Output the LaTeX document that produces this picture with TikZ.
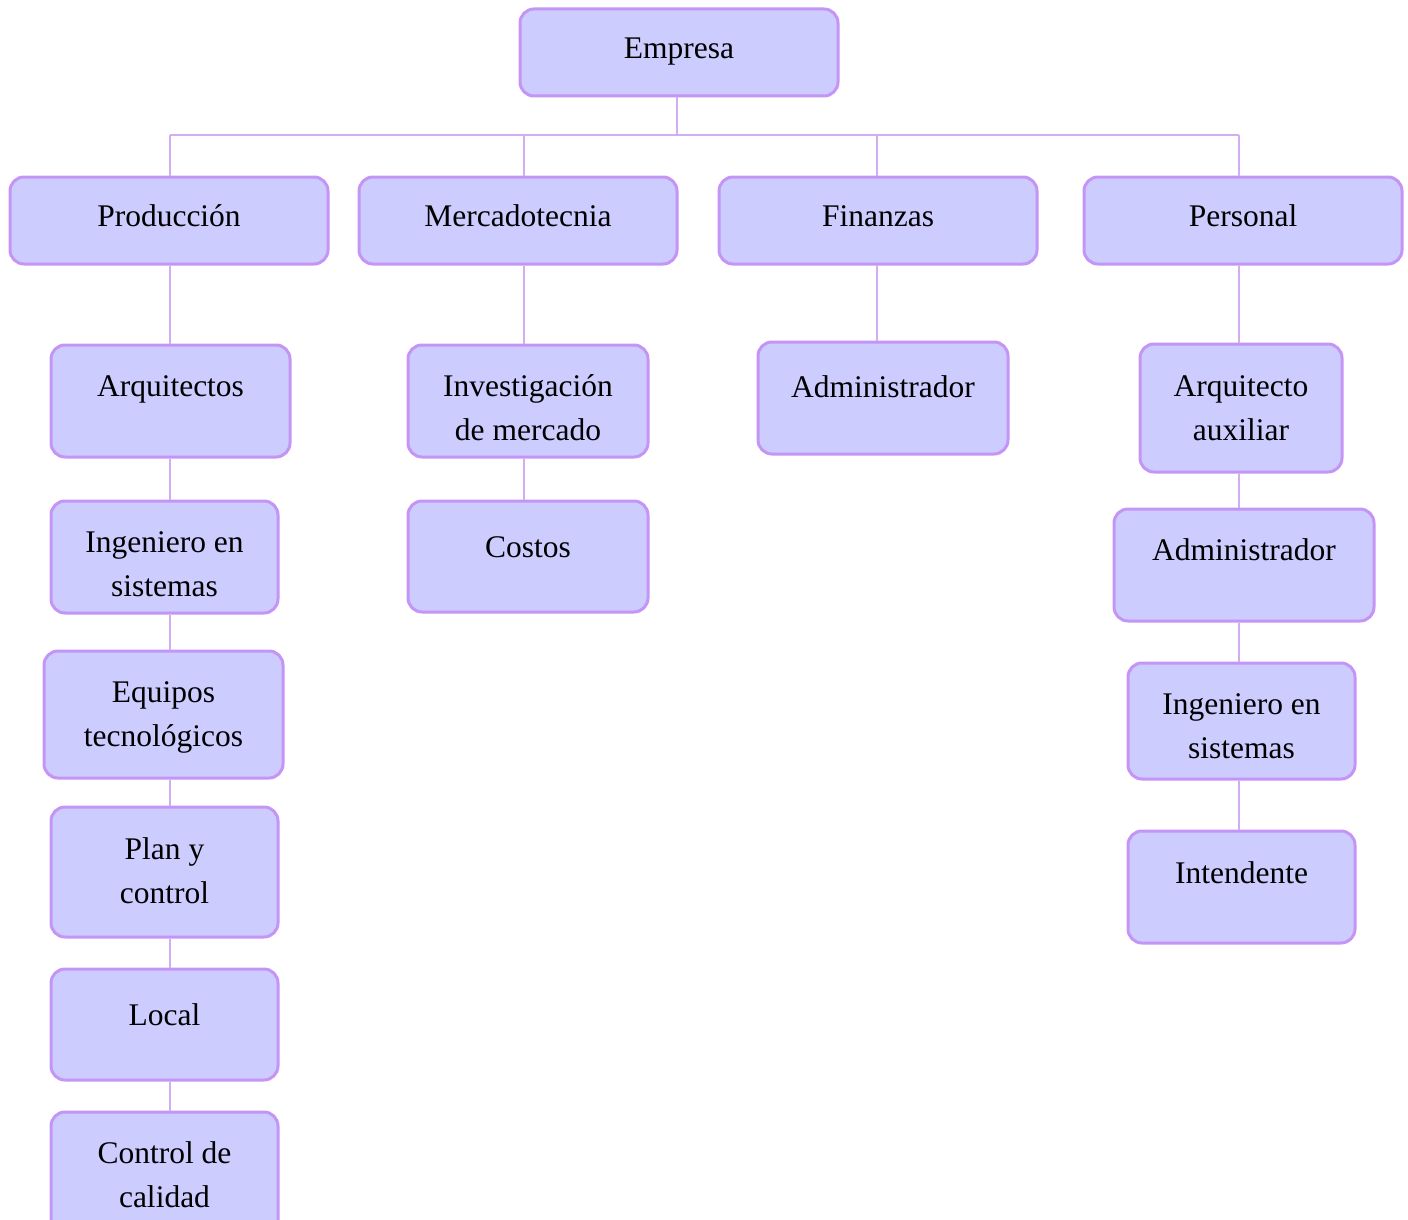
\documentclass[tikz,border=0pt]{standalone}
\usepackage{fontspec}
\setmainfont{Liberation Serif}
\definecolor{boxfill}{HTML}{CCCCFF}
\definecolor{boxline}{HTML}{C495F5}
\definecolor{linkline}{HTML}{D1AEF2}
\tikzset{
  box/.style={draw=boxline, fill=boxfill, line width=1.5pt, rounded corners=7pt,
    inner sep=0pt, align=center, font=\fontsize{15.75}{22}\selectfont},
  one/.style={text height=11pt, text depth=#1},
  two/.style={text height=40pt, text depth=#1},
  head/.style={box, minimum width=159pt, minimum height=43.5pt, one=5.1pt},
  link/.style={draw=linkline, line width=0.8pt}
}
\begin{document}
\begin{tikzpicture}[x=0.5pt,y=-0.5pt]

    \useasboundingbox (0,0) rectangle (1408,1220);
    \clip (0,0) rectangle (1408,1220);

    % first two rows
    \node[head] (emp) at (679,52.5) {Empresa};
    \node[head] (prod) at (169,220.5) {Producción};
    \node[head] (merc) at (518,220.5) {Mercadotecnia};
    \node[head] (fin) at (878,220.5) {Finanzas};
    \node[head] (pers) at (1243,220.5) {Personal};

    % Producción
    \node[box, minimum width=119.5pt, minimum height=56pt, one=15.6pt] (arq) at (170.5,401) {Arquitectos};
    \node[box, minimum width=113.5pt, minimum height=56pt, two=0.6pt] (ingP) at (164.5,557) {Ingeniero en\\sistemas};
    \node[box, minimum width=119.5pt, minimum height=63.5pt, two=8.1pt] (equ) at (163.5,714.5) {Equipos\\tecnológicos};
    \node[box, minimum width=113.5pt, minimum height=65pt, two=8.6pt] (plan) at (164.5,872) {Plan y\\control};
    \node[box, minimum width=113.5pt, minimum height=55.5pt, one=10.1pt] (loc) at (164.5,1024.5) {Local};
    \node[box, minimum width=113.5pt, minimum height=65pt, two=9.6pt] (cal) at (164.5,1177) {Control de\\calidad};

    % Mercadotecnia
    \node[box, minimum width=120pt, minimum height=56pt, two=0.6pt] (inv) at (528,401) {Investigación\\de mercado};
    \node[box, minimum width=120pt, minimum height=55.5pt, one=10.1pt] (cos) at (528,556.5) {Costos};

    % Finanzas
    \node[box, minimum width=125pt, minimum height=56pt, one=11.6pt] (admF) at (883,398) {Administrador};

    % Personal
    \node[box, minimum width=101pt, minimum height=64pt, two=7.6pt] (arqA) at (1241,408) {Arquitecto\\auxiliar};
    \node[box, minimum width=130pt, minimum height=56pt, one=15.6pt] (admP) at (1244,565) {Administrador};
    \node[box, minimum width=113.5pt, minimum height=58pt, two=2.6pt] (ingR) at (1241.5,721) {Ingeniero en\\sistemas};
    \node[box, minimum width=113.5pt, minimum height=56pt, one=14.6pt] (intd) at (1241.5,887) {Intendente};

    \coordinate (bus) at (677,135);
    \coordinate (cP) at (170,135);
    \coordinate (cM) at (524,135);
    \coordinate (cF) at (877,135);
    \coordinate (cR) at (1239,135);

    \draw[link] (emp.south -| bus) -- (bus);
    \draw[link] (cP) -- (cR);
    \draw[link] (cP) -- (prod.north -| cP);
    \draw[link] (cM) -- (merc.north -| cM);
    \draw[link] (cF) -- (fin.north -| cF);
    \draw[link] (cR) -- (pers.north -| cR);

    \foreach \a/\b in {prod/arq, arq/ingP, ingP/equ, equ/plan, plan/loc, loc/cal}
      \draw[link] (\a.south -| cP) -- (\b.north -| cP);
    \foreach \a/\b in {merc/inv, inv/cos}
      \draw[link] (\a.south -| cM) -- (\b.north -| cM);
    \draw[link] (fin.south -| cF) -- (admF.north -| cF);
    \foreach \a/\b in {pers/arqA, arqA/admP, admP/ingR, ingR/intd}
      \draw[link] (\a.south -| cR) -- (\b.north -| cR);

\end{tikzpicture}
\end{document}
